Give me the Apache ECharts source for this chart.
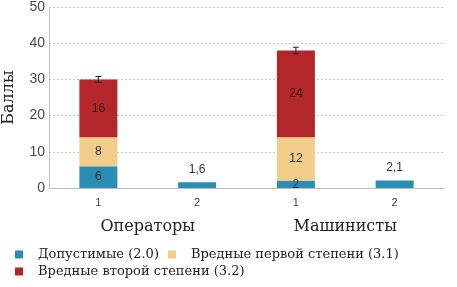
<!DOCTYPE html>
<html><head><meta charset="utf-8">
<script src="https://cdn.jsdelivr.net/npm/echarts@6/dist/echarts.min.js"></script>
<style>html,body{margin:0;padding:0;background:#fff}#c{width:457px;height:287px}</style>
</head><body><div id="c"></div>
<script>
const categories = ['1', '2', '1 ', '2 '];
const groups = ['Операторы', 'Машинисты'];
const seriesNames = ['Допустимые (2.0)', 'Вредные первой степени (3.1)', 'Вредные второй степени (3.2)'];
const permissible = [6, 1.6, 2, 2.1];
const harmful1 = [8, null, 12, null];
const harmful2 = [16, null, 24, null];
const errLow = [29.2, null, 37.1, null];
const errHigh = [30.8, null, 38.9, null];
const yTicks = [0, 10, 20, 30, 40, 50];

const colors = ['#2a8db3', '#f1cd89', '#b3262a'];
const sans = 'Arial';
const serif = 'DejaVu Serif';

const chart = echarts.init(document.getElementById('c'), null, {renderer: 'canvas'});
const fmt = v => String(v).replace('.', ',');
function labelInside(p) { return p.value == null ? '' : fmt(p.value); }
const legText = {fontFamily: serif, fontSize: 13, color: '#222',
  rich: {t: {fontFamily: serif, fontSize: 13, color: '#222', padding: [0, 0, 0, 10]}}};
const legFmt = name => '{t|' + name + '}';

chart.setOption({
  animation: false,
  grid: {left: 49, right: 13, top: 7, bottom: 99, containLabel: false, outerBoundsMode: 'none'},
  legend: [
    {left: 15, top: 248, itemWidth: 8, itemHeight: 8, itemGap: 9, icon: 'rect', padding: 0,
     data: [seriesNames[0], seriesNames[1]], textStyle: legText, formatter: legFmt},
    {left: 15, top: 265, itemWidth: 8, itemHeight: 8, icon: 'rect', padding: 0,
     data: [seriesNames[2]], textStyle: legText, formatter: legFmt}
  ],
  xAxis: [
    {type: 'category', data: categories, position: 'bottom',
     axisLine: {lineStyle: {color: '#bdbdbd'}}, axisTick: {show: false},
     axisLabel: {fontFamily: sans, fontSize: 11, color: '#444', margin: 9, formatter: v => v.trim()}},
    {type: 'category', data: groups, position: 'bottom', offset: 28,
     axisLine: {show: false}, axisTick: {show: false},
     axisLabel: {fontFamily: serif, fontSize: 16, color: '#222', margin: 3}}
  ],
  yAxis: {type: 'value', min: 0, max: 50, interval: 10,
    name: 'Баллы', nameLocation: 'middle', nameGap: 32, nameRotate: 90,
    nameTextStyle: {fontFamily: serif, fontSize: 16, color: '#222'},
    axisLine: {show: true, lineStyle: {color: '#bdbdbd'}}, axisTick: {show: false},
    axisLabel: {fontFamily: sans, fontSize: 14, color: '#484848', margin: 4,
      formatter: v => yTicks.includes(v) ? String(v) : ''},
    splitLine: {lineStyle: {color: '#c8c8c8', type: [2, 2]}}
  },
  series: [
    {name: seriesNames[0], type: 'bar', stack: 's', barWidth: 38,
     data: permissible.map((v, i) => harmful1[i] == null ? {value: v, label: {position: 'top', distance: 7}} : v),
     itemStyle: {color: colors[0]},
     label: {show: true, fontFamily: sans, fontSize: 12, color: '#333', position: 'inside', formatter: labelInside}},
    {name: seriesNames[1], type: 'bar', stack: 's', barWidth: 38, data: harmful1,
     itemStyle: {color: colors[1]},
     label: {show: true, position: 'inside', fontFamily: sans, fontSize: 12, color: '#333', formatter: labelInside}},
    {name: seriesNames[2], type: 'bar', stack: 's', barWidth: 38, data: harmful2,
     itemStyle: {color: colors[2]},
     label: {show: true, position: 'inside', fontFamily: sans, fontSize: 12, color: '#3a1414', formatter: labelInside}},
    {type: 'custom', name: 'err', silent: true, z: 10,
     data: categories.map((c, i) => [i, errLow[i], errHigh[i]]),
     renderItem: function (params, api) {
       if (api.value(1) == null || isNaN(api.value(1))) return;
       const lo = api.coord([api.value(0), api.value(1)]);
       const hi = api.coord([api.value(0), api.value(2)]);
       const w = 3;
       const st = {stroke: '#222', lineWidth: 1};
       return {type: 'group', children: [
         {type: 'line', shape: {x1: hi[0], y1: hi[1], x2: lo[0], y2: lo[1]}, style: st},
         {type: 'line', shape: {x1: hi[0] - w, y1: hi[1], x2: hi[0] + w, y2: hi[1]}, style: st},
         {type: 'line', shape: {x1: lo[0] - w, y1: lo[1], x2: lo[0] + w, y2: lo[1]}, style: st}
       ]};
     }}
  ]
});
</script></body></html>
